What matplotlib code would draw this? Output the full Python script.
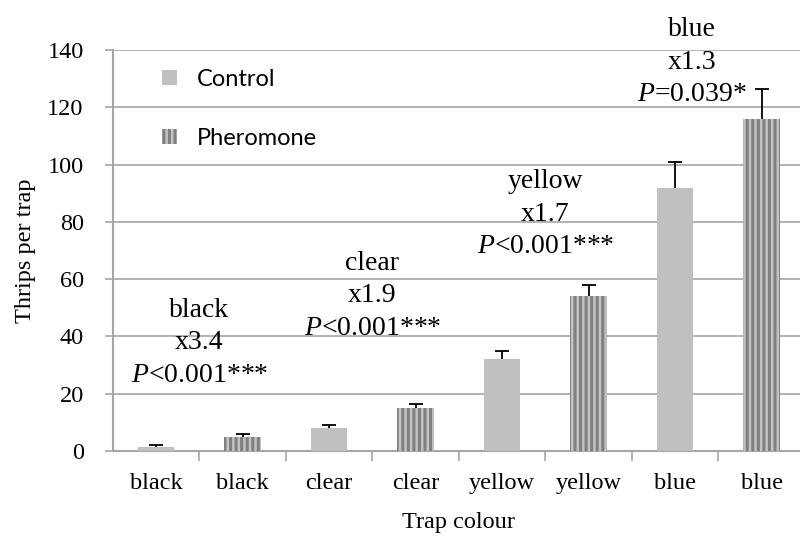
import numpy as np
import matplotlib.pyplot as plt
from matplotlib.patches import Patch

plt.rcParams["font.family"] = "Liberation Serif"
plt.rcParams["mathtext.fontset"] = "custom"
plt.rcParams["mathtext.it"] = "Liberation Serif:italic"
plt.rcParams["mathtext.rm"] = "Liberation Serif"
plt.rcParams["hatch.linewidth"] = 2.2
plt.rcParams["hatch.color"] = "#808080"

categories = ["black", "black", "clear", "clear", "yellow", "yellow", "blue", "blue"]
is_pheromone = [False, True, False, True, False, True, False, True]
means = [1.5, 5, 8, 15, 32, 54, 92, 116]
errors = [0.5, 1, 1, 1.5, 3, 4, 9, 10.5]

notes = ["black\nx3.4\n$P$<0.001***",
         "clear\nx1.9\n$P$<0.001***",
         "yellow\nx1.7\n$P$<0.001***",
         "blue\nx1.3\n$P$=0.039*"]
note_x = [0.5, 2.5, 4.5, 6.2]
note_top = [53.5, 70, 98.5, 151.5]

grid_col = "#a6a6a6"

fig = plt.figure(figsize=(8, 5.36), dpi=100)
ax = fig.add_axes([0.141, 0.1586, 0.865, 0.748])

x = np.arange(len(categories))
for xi, m, ph in zip(x, means, is_pheromone):
    if ph:
        ax.bar(xi, m, width=0.42, color="#c3c3c3", hatch="|||", edgecolor="#808080",
               linewidth=0, zorder=3)
    else:
        ax.bar(xi, m, width=0.41, color="#c0c0c0", linewidth=0, zorder=3)

# lower half sits behind the bars, so only the upper whisker shows
ax.errorbar(x, means, yerr=errors, fmt="none",
            ecolor="black", elinewidth=1.3, capsize=5, capthick=1.3, zorder=2.5)

ax.set_xlim(-0.5, 7.5)
ax.set_ylim(0, 140)
ax.set_yticks(np.arange(0, 141, 20))
ax.yaxis.grid(True, color=grid_col, linewidth=1.2, zorder=0)
ax.set_axisbelow(True)

ax.set_xticks(x)
ax.set_xticklabels(categories, fontsize=17.5)
ax.set_xticks(np.arange(0.5, 7.5, 1), minor=True)
ax.tick_params(axis="x", which="major", length=0, pad=16)
ax.tick_params(axis="x", which="minor", length=7, width=1.2, color=grid_col)
ax.tick_params(axis="y", length=6, width=1.2, color=grid_col, labelsize=17.5, pad=15)

for s in ["top", "right"]:
    ax.spines[s].set_visible(False)
for s in ["left", "bottom"]:
    ax.spines[s].set_color(grid_col)
    ax.spines[s].set_linewidth(1.5)

ax.set_ylabel("Thrips per trap", fontsize=17.5, labelpad=8)
ax.set_xlabel("Trap colour", fontsize=17.5, labelpad=13)

for t, xn, yn in zip(notes, note_x, note_top):
    ax.text(xn, yn, t, ha="center", va="top", fontsize=20,
            linespacing=1.4, clip_on=False, zorder=5)

handles = [Patch(facecolor="#c0c0c0", linewidth=0, label="Control"),
           Patch(facecolor="#c3c3c3", hatch="|||", edgecolor="#808080", linewidth=0,
                 label="Pheromone")]
leg = ax.legend(handles=handles, loc="upper left", bbox_to_anchor=(162 / 800, 1 - 69 / 536),
                bbox_transform=fig.transFigure, frameon=False,
                prop={"family": "Lato", "size": 17}, handlelength=0.63, handleheight=0.63,
                handletextpad=0.85, labelspacing=1.6, borderpad=0, borderaxespad=0)

fig.savefig("out.png", dpi=100)
